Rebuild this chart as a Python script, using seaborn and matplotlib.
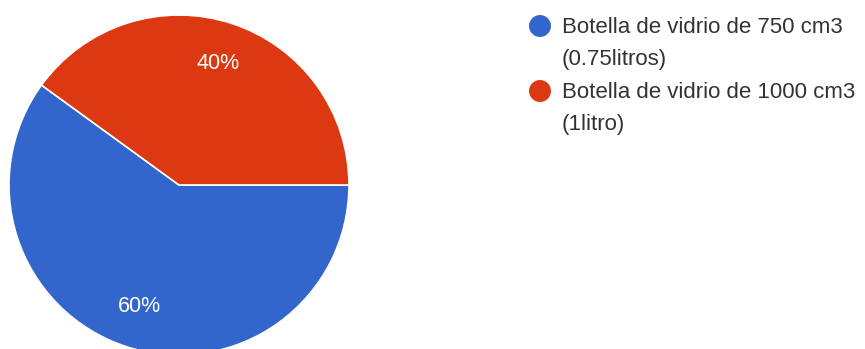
import matplotlib
matplotlib.use("Agg")
import matplotlib.pyplot as plt
import seaborn as sns

# Data
categories = ["Botella de vidrio de 750 cm3\n(0.75litros)",
              "Botella de vidrio de 1000 cm3\n(1litro)"]
values = [60, 40]
colors = ["#3366cc", "#dc3912"]

sns.set_theme(style="white")
plt.rcParams['font.family'] = ['Liberation Sans', 'DejaVu Sans']

W, H = 865, 349
fig = plt.figure(figsize=(W / 100, H / 100), dpi=100)
fig.patch.set_facecolor("white")

# Pie axes: center (179, 185) px from top-left, radius 170 px
cx, cy, r = 179, 185, 170
ax = fig.add_axes([(cx - r) / W, (H - cy - r) / H, 2 * r / W, 2 * r / H])
wedges, texts, autotexts = ax.pie(
    values, colors=colors, startangle=0, counterclock=False,
    autopct=lambda p: f"{p:.0f}%", pctdistance=0.75,
    wedgeprops=dict(edgecolor="white", linewidth=1.2),
    textprops=dict(color="white", fontsize=15.5))
ax.set_xlim(-1, 1)
ax.set_ylim(-1, 1)
ax.set_aspect("equal")
ax.axis("off")

# Legend drawn in pixel coordinates
lax = fig.add_axes([0, 0, 1, 1])
lax.set_xlim(0, W)
lax.set_ylim(H, 0)
lax.axis("off")
entry_y = [33, 98]
circle_y = [26, 91]
line_gap = 32
for i, (lab, col) in enumerate(zip(categories, colors)):
    y0 = entry_y[i]
    lax.scatter([540], [circle_y[i]], s=250, color=col, edgecolors="none")
    for j, line in enumerate(lab.split("\n")):
        lax.text(562, y0 + j * line_gap, line, fontsize=16, color="#333333",
                 va="baseline", ha="left")

fig.savefig("out.png", dpi=100)
